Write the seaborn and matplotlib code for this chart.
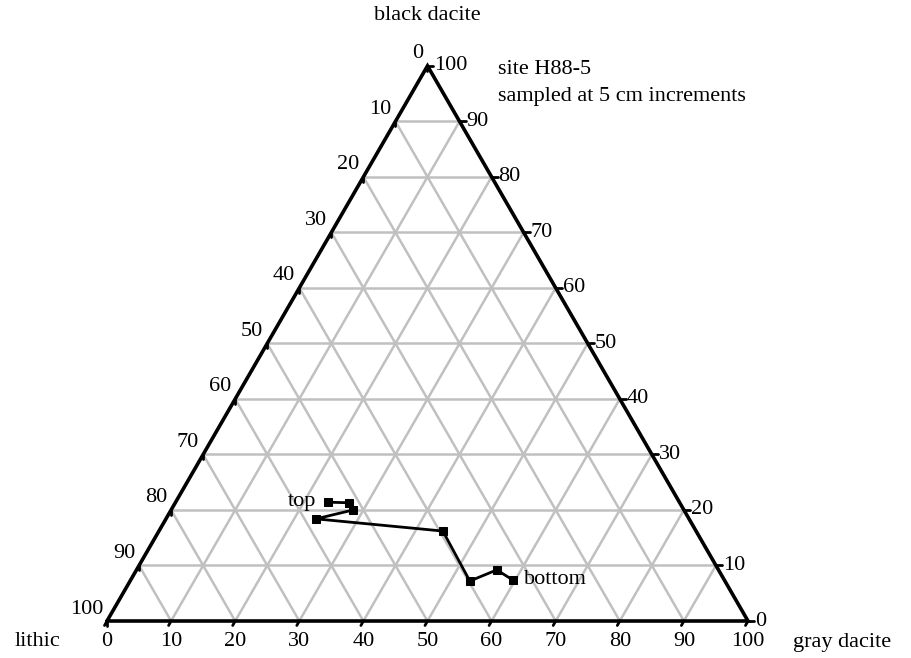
import numpy as np
import pandas as pd
import matplotlib
matplotlib.use("Agg")
import matplotlib.pyplot as plt
import seaborn as sns

# ternary composition (%) of samples, from top to bottom of section
gray_dacite = [23.8, 27.1, 28.4, 23.4, 44.3, 53.0, 56.2, 59.6]
black_dacite = [21.4, 21.3, 20.0, 18.4, 16.2, 7.2, 9.2, 7.4]
lithic = [100 - g - b for g, b in zip(gray_dacite, black_dacite)]
tick_values = [0, 10, 20, 30, 40, 50, 60, 70, 80, 90, 100]

sns.set_theme(style="white")
plt.rcParams['font.family'] = ['Liberation Serif', 'DejaVu Serif']
plt.rcParams['text.color'] = 'black'

W, H = 912, 658
fig = plt.figure(figsize=(W / 100, H / 100), dpi=100)
ax = fig.add_axes([0, 0, 1, 1])
# unit triangle: lithic (0,0), gray (1,0), black (0.5, sqrt3/2)
x0, y0, s = 107.0, 621.0, 641.0
ax.set_xlim(-x0 / s, (W - x0) / s)
ax.set_ylim((y0 - H) / s, y0 / s)
ax.set_aspect('equal')
ax.axis('off')

r3 = np.sqrt(3) / 2


def tern(g, b):
    g = np.asarray(g, float) / 100
    b = np.asarray(b, float) / 100
    return g + b / 2, b * r3


px = 1 / s
gc = '#c0c0c0'
glw = 1.8
# grid
for v in tick_values[1:-1]:
    xa, ya = tern(0, v); xb, yb = tern(100 - v, v)
    ax.plot([xa, xb], [ya, yb], color=gc, lw=glw, zorder=1)
    xa, ya = tern(v, 0); xb, yb = tern(v, 100 - v)
    ax.plot([xa, xb], [ya, yb], color=gc, lw=glw, zorder=1)
    xa, ya = tern(100 - v, 0); xb, yb = tern(0, 100 - v)
    ax.plot([xa, xb], [ya, yb], color=gc, lw=glw, zorder=1)

# border
ax.plot([0, 1, 0.5, 0], [0, 0, r3, 0], color='black', lw=2.6, zorder=3,
        solid_joinstyle='miter')

fs = 16
# bottom axis: gray dacite
for v in tick_values:
    x, y = tern(v, 0)
    ax.plot([x, x - 2.5 * px], [y, y - 4.5 * px], color='black', lw=2, zorder=3)
    ax.text(x, y - 11 * px, str(v), ha='center', va='top', fontsize=fs)
# right axis: black dacite
for v in tick_values:
    x, y = tern(100 - v, v)
    ax.plot([x, x + 6 * px], [y, y], color='black', lw=2, zorder=3)
    ax.text(x + 7 * px, y, str(v), ha='left', va='center', fontsize=fs)
# left axis: lithic
for v in tick_values:
    x, y = tern(0, 100 - v)
    ax.plot([x, x], [y, y - 5 * px], color='black', lw=2, zorder=3)
    ax.text(x - 4 * px, y + 12 * px, str(v), ha='right', va='center', fontsize=fs)

# data
xs, ys = tern(gray_dacite, black_dacite)
df = pd.DataFrame({'x': xs, 'y': ys, 'order': range(len(xs))})
sns.lineplot(data=df, x='x', y='y', sort=False, ax=ax, color='black', lw=2,
             marker='s', markersize=6, markeredgecolor='black', zorder=4)
ax.axis('off')

ax.text(xs[0] - 12 * px, ys[0] + 1 * px, 'top', ha='right', va='center', fontsize=fs)
ax.text(xs[-1] + 11 * px, ys[-1], 'bottom', ha='left', va='center', fontsize=fs)

# vertex labels
ax.text(0.5, (y0 - 15) / s, 'black dacite', ha='center', va='center', fontsize=fs)
ax.text(-70 * px, -21 * px, 'lithic', ha='center', va='center', fontsize=fs)
ax.text(1 + 45 * px, -21 * px, 'gray dacite', ha='left', va='center', fontsize=fs)
ax.text((498 - x0) / s, (y0 - 70) / s, 'site H88-5', ha='left', va='center', fontsize=fs)
ax.text((498 - x0) / s, (y0 - 97) / s, 'sampled at 5 cm increments', ha='left',
        va='center', fontsize=fs)

fig.savefig('out.png', dpi=100)
